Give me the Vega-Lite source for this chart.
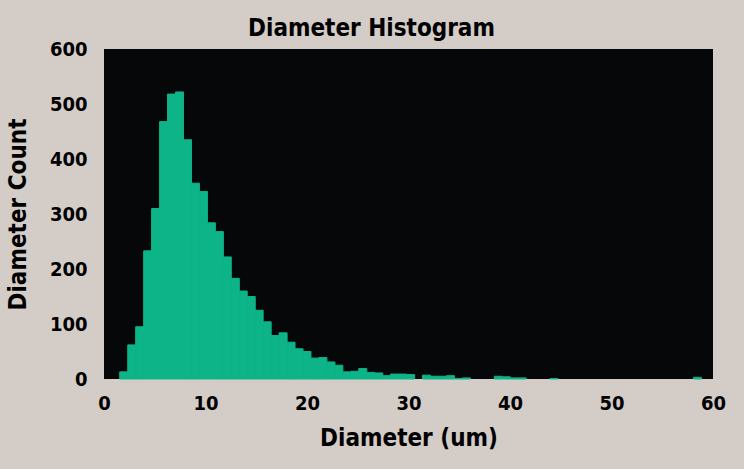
{
  "$schema": "https://vega.github.io/schema/vega-lite/v6.json",
  "autosize": "none",
  "width": 609,
  "height": 330,
  "padding": {"left": 104, "top": 49, "right": 31, "bottom": 90},
  "background": "#d4ccc7",
  "config": {
    "view": {"fill": "#050709", "stroke": null},
    "font": "'DejaVu Sans Condensed', 'Liberation Sans', sans-serif"
  },
  "title": {
    "text": "Diameter Histogram",
    "font": "'DejaVu Sans Condensed', 'Liberation Sans', sans-serif",
    "fontSize": 24,
    "fontWeight": "bold",
    "color": "#000000",
    "anchor": "middle",
    "baseline": "alphabetic",
    "offset": 12,
    "dx": -37,
    "dy": 33
  },
  "data": {
    "values": [
      {"start": 1.55, "end": 2.34, "count": 13},
      {"start": 2.34, "end": 3.12, "count": 62},
      {"start": 3.12, "end": 3.91, "count": 95},
      {"start": 3.91, "end": 4.69, "count": 233},
      {"start": 4.69, "end": 5.48, "count": 310},
      {"start": 5.48, "end": 6.26, "count": 468},
      {"start": 6.26, "end": 7.05, "count": 518},
      {"start": 7.05, "end": 7.83, "count": 522},
      {"start": 7.83, "end": 8.62, "count": 435},
      {"start": 8.62, "end": 9.40, "count": 356},
      {"start": 9.40, "end": 10.19, "count": 341},
      {"start": 10.19, "end": 10.97, "count": 284},
      {"start": 10.97, "end": 11.76, "count": 268},
      {"start": 11.76, "end": 12.54, "count": 222},
      {"start": 12.54, "end": 13.33, "count": 183},
      {"start": 13.33, "end": 14.11, "count": 160},
      {"start": 14.11, "end": 14.90, "count": 150},
      {"start": 14.90, "end": 15.68, "count": 125},
      {"start": 15.68, "end": 16.47, "count": 104},
      {"start": 16.47, "end": 17.25, "count": 79},
      {"start": 17.25, "end": 18.04, "count": 84},
      {"start": 18.04, "end": 18.82, "count": 67},
      {"start": 18.82, "end": 19.61, "count": 55},
      {"start": 19.61, "end": 20.39, "count": 50},
      {"start": 20.39, "end": 21.18, "count": 38},
      {"start": 21.18, "end": 21.96, "count": 39},
      {"start": 21.96, "end": 22.75, "count": 31},
      {"start": 22.75, "end": 23.53, "count": 25},
      {"start": 23.53, "end": 24.32, "count": 13},
      {"start": 24.32, "end": 25.10, "count": 14},
      {"start": 25.10, "end": 25.89, "count": 19},
      {"start": 25.89, "end": 26.67, "count": 12},
      {"start": 26.67, "end": 27.46, "count": 11},
      {"start": 27.46, "end": 28.24, "count": 6},
      {"start": 28.24, "end": 29.03, "count": 9},
      {"start": 29.03, "end": 29.81, "count": 9},
      {"start": 29.81, "end": 30.60, "count": 8},
      {"start": 31.38, "end": 32.17, "count": 7},
      {"start": 32.17, "end": 32.95, "count": 5},
      {"start": 32.95, "end": 33.74, "count": 5},
      {"start": 33.74, "end": 34.52, "count": 6},
      {"start": 34.52, "end": 35.31, "count": 1},
      {"start": 35.31, "end": 36.09, "count": 2},
      {"start": 38.45, "end": 39.23, "count": 5},
      {"start": 39.23, "end": 40.02, "count": 4},
      {"start": 40.02, "end": 40.80, "count": 2},
      {"start": 40.80, "end": 41.59, "count": 2},
      {"start": 43.94, "end": 44.73, "count": 1},
      {"start": 58.07, "end": 58.86, "count": 3}
    ]
  },
  "mark": {"type": "rect", "color": "#0db487", "stroke": "#0db487", "strokeWidth": 1, "opacity": 1, "fillOpacity": 1, "strokeOpacity": 1},
  "encoding": {
    "x": {
      "field": "start",
      "type": "quantitative",
      "scale": {"domain": [0, 60], "nice": false, "zero": false},
      "axis": {
        "values": [0, 10, 20, 30, 40, 50, 60],
        "title": "Diameter (um)",
        "titleFont": "'DejaVu Sans Condensed', 'Liberation Sans', sans-serif",
        "titleFontSize": 24,
        "titleFontWeight": "bold",
        "titleColor": "#000000",
        "titleX": 304.5,
        "titleY": 59,
        "titleBaseline": "middle",
        "titleAnchor": "middle",
        "labelFont": "'DejaVu Sans Condensed', 'Liberation Sans', sans-serif",
        "labelFontSize": 20,
        "labelFontWeight": "bold",
        "labelColor": "#000000",
        "labelPadding": 14,
        "labelFlush": false,
        "ticks": false,
        "domain": false,
        "grid": false
      }
    },
    "x2": {"field": "end"},
    "y": {
      "field": "count",
      "type": "quantitative",
      "scale": {"domain": [0, 600], "nice": false},
      "axis": {
        "values": [0, 100, 200, 300, 400, 500, 600],
        "title": "Diameter Count",
        "titleFont": "'DejaVu Sans Condensed', 'Liberation Sans', sans-serif",
        "titleFontSize": 24,
        "titleFontWeight": "bold",
        "titleColor": "#000000",
        "titleAngle": -90,
        "titleX": -86,
        "titleY": 165,
        "titleAlign": "center",
        "titleBaseline": "middle",
        "labelFont": "'DejaVu Sans Condensed', 'Liberation Sans', sans-serif",
        "labelFontSize": 20,
        "labelFontWeight": "bold",
        "labelColor": "#000000",
        "labelPadding": 17,
        "labelFlush": false,
        "ticks": false,
        "domain": false,
        "grid": false
      }
    },
    "y2": {"datum": 0}
  }
}
